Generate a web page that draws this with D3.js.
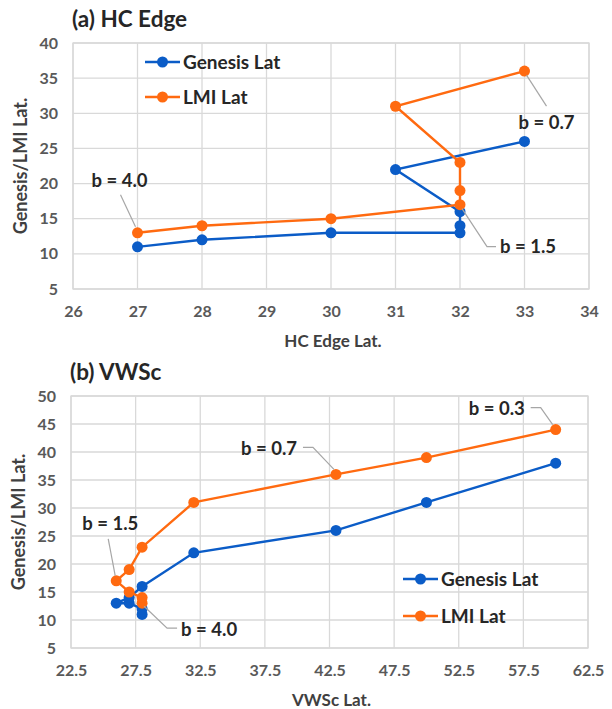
<!DOCTYPE html>
<html>
<head>
<meta charset="utf-8">
<script src="https://cdn.jsdelivr.net/npm/d3@7"></script>
<style>
  html, body { margin: 0; padding: 0; background: #fff; }
  svg text { font-family: "Lato", "Open Sans", sans-serif; }
</style>
</head>
<body>
<svg id="fig" width="612" height="709"></svg>
<script>
// (a) HC Edge latitude vs genesis / LMI latitude
const hcGenesisX = [27, 28, 30, 32, 32, 32, 31, 33];
const hcGenesisY = [11, 12, 13, 13, 14, 16, 22, 26];
const hcLmiX     = [27, 28, 30, 32, 32, 32, 31, 33];
const hcLmiY     = [13, 14, 15, 17, 19, 23, 31, 36];
const hcXTicks   = [26, 27, 28, 29, 30, 31, 32, 33, 34];
const hcYTicks   = [5, 10, 15, 20, 25, 30, 35, 40];

// (b) VWSc latitude vs genesis / LMI latitude
const vwsGenesisX = [28, 28, 27, 26, 27, 28, 32, 43, 50, 60];
const vwsGenesisY = [11, 12, 13, 13, 14, 16, 22, 26, 31, 38];
const vwsLmiX     = [28, 28, 27, 26, 27, 28, 32, 43, 50, 60];
const vwsLmiY     = [13, 14, 15, 17, 19, 23, 31, 36, 39, 44];
const vwsXTicks   = [22.5, 27.5, 32.5, 37.5, 42.5, 47.5, 52.5, 57.5, 62.5];
const vwsYTicks   = [5, 10, 15, 20, 25, 30, 35, 40, 45, 50];

// b-value callouts: label text and the LMI point each one refers to
const hcNotes  = [{ text: "b = 4.0", idx: 0 }, { text: "b = 1.5", idx: 3 }, { text: "b = 0.7", idx: 7 }];
const vwsNotes = [{ text: "b = 4.0", idx: 0 }, { text: "b = 1.5", idx: 3 }, { text: "b = 0.7", idx: 7 }, { text: "b = 0.3", idx: 9 }];

const BLUE = "#0b5cc7";
const ORANGE = "#ff6a10";
const svg = d3.select("#fig");

function drawPanel(p) {
  const g = svg.append("g");
  const x = d3.scaleLinear().domain(d3.extent(p.xTicks)).range([p.left, p.right]);
  const y = d3.scaleLinear().domain(d3.extent(p.yTicks)).range([p.bottom, p.top]);

  // gridlines
  g.append("g").selectAll("line").data(p.xTicks).join("line")
    .attr("x1", d => x(d)).attr("x2", d => x(d))
    .attr("y1", p.top).attr("y2", p.bottom)
    .attr("stroke", "#d9d9d9").attr("stroke-width", 1.3);
  g.append("g").selectAll("line").data(p.yTicks).join("line")
    .attr("x1", p.left).attr("x2", p.right)
    .attr("y1", d => y(d)).attr("y2", d => y(d))
    .attr("stroke", "#d9d9d9").attr("stroke-width", 1.3);

  // axes: tick labels only
  const xAxis = g.append("g").attr("transform", `translate(0,${p.bottom})`)
    .call(d3.axisBottom(x).tickValues(p.xTicks).tickSize(0).tickPadding(17)
      .tickFormat(d => String(d)));
  const yAxis = g.append("g").attr("transform", `translate(${p.left},0)`)
    .call(d3.axisLeft(y).tickValues(p.yTicks).tickSize(0).tickPadding(15));
  [xAxis, yAxis].forEach(a => {
    a.select(".domain").remove();
    a.selectAll("text").attr("font-size", 16).attr("font-weight", "bold")
      .attr("fill", "#595959").style("font-family", '"Lato", sans-serif');
  });

  // title
  g.append("text").attr("x", p.left - 1).attr("y", p.top - 16)
    .attr("font-size", 22.5).attr("font-weight", "bold").attr("fill", "#262626")
    .text(p.title);
  // axis titles
  g.append("text").attr("x", (p.left + p.right) / 2 + 2).attr("y", p.bottom + 58)
    .attr("text-anchor", "middle").attr("font-size", 17).attr("font-weight", "bold")
    .attr("fill", "#404040").text(p.xTitle);
  g.append("text")
    .attr("transform", `translate(${p.left - 46},${(p.top + p.bottom) / 2}) rotate(-90)`)
    .attr("text-anchor", "middle").attr("font-size", 18).attr("font-weight", "bold")
    .attr("fill", "#404040").text("Genesis/LMI Lat.");

  // series
  const line = d3.line().x(d => x(d[0])).y(d => y(d[1]));
  const series = [
    { pts: d3.zip(p.gx, p.gy), color: BLUE },
    { pts: d3.zip(p.lx, p.ly), color: ORANGE }
  ];
  series.forEach(s => {
    g.append("path").datum(s.pts).attr("d", line)
      .attr("fill", "none").attr("stroke", s.color).attr("stroke-width", 2.4);
  });
  series.forEach(s => {
    g.append("g").selectAll("circle").data(s.pts).join("circle")
      .attr("cx", d => x(d[0])).attr("cy", d => y(d[1])).attr("r", 5.5)
      .attr("fill", s.color);
  });

  // callouts
  p.notes.forEach((n, i) => {
    const pt = [x(p.lx[n.idx]), y(p.ly[n.idx])];
    const o = p.noteOffsets[i];
    const path = d3.path();
    path.moveTo(pt[0] + o.start[0], pt[1] + o.start[1]);
    o.bends.forEach(b => path.lineTo(pt[0] + b[0], pt[1] + b[1]));
    g.append("path").attr("d", path.toString()).attr("fill", "none")
      .attr("stroke", "#a6a6a6").attr("stroke-width", 1.2);
    g.append("text").attr("x", pt[0] + o.text[0]).attr("y", pt[1] + o.text[1])
      .attr("dy", "0.35em").attr("text-anchor", o.anchor || "start")
      .attr("font-size", 18.5).attr("font-weight", "bold").attr("fill", "#262626")
      .text(n.text);
  });

  // legend
  const leg = [{ name: "Genesis Lat", color: BLUE }, { name: "LMI Lat", color: ORANGE }];
  leg.forEach((l, i) => {
    const ly = p.legend[1] + i * p.legendGap;
    const lx = p.legend[0];
    g.append("line").attr("x1", lx).attr("x2", lx + 35).attr("y1", ly).attr("y2", ly)
      .attr("stroke", l.color).attr("stroke-width", 2.4);
    g.append("circle").attr("cx", lx + 17.5).attr("cy", ly).attr("r", 5.5).attr("fill", l.color);
    g.append("text").attr("x", lx + 38).attr("y", ly).attr("dy", "0.35em")
      .attr("font-size", 19).attr("font-weight", "bold").attr("fill", "#262626").text(l.name);
  });

  // plot frame
  g.append("rect").attr("x", p.left).attr("y", p.top)
    .attr("width", p.right - p.left).attr("height", p.bottom - p.top)
    .attr("fill", "none").attr("stroke", "#d9d9d9").attr("stroke-width", 1.3);
}

drawPanel({
  title: "(a) HC Edge", xTitle: "HC Edge Lat.",
  left: 73, right: 589, top: 43, bottom: 289,
  xTicks: hcXTicks, yTicks: hcYTicks,
  gx: hcGenesisX, gy: hcGenesisY, lx: hcLmiX, ly: hcLmiY,
  notes: hcNotes,
  noteOffsets: [
    { start: [-2, -6], bends: [[-17, -38]], text: [-46, -52] },
    { start: [2, 4], bends: [[27, 42], [36, 42]], text: [40, 42] },
    { start: [2, 4], bends: [[22, 35]], text: [-6, 51] }
  ],
  legend: [145, 62], legendGap: 35
});

drawPanel({
  title: "(b) VWSc", xTitle: "VWSc Lat.",
  left: 71, right: 588, top: 396, bottom: 648,
  xTicks: vwsXTicks, yTicks: vwsYTicks,
  gx: vwsGenesisX, gy: vwsGenesisY, lx: vwsLmiX, ly: vwsLmiY,
  notes: vwsNotes,
  noteOffsets: [
    { start: [2, 3], bends: [[25, 25], [35, 25]], text: [39, 26] },
    { start: [-1, -5], bends: [[-8, -42]], text: [-34, -57] },
    { start: [-2, -5], bends: [[-23, -27], [-33, -27]], text: [-95, -26] },
    { start: [-3, -5], bends: [[-15, -22], [-25, -22]], text: [-87, -21] }
  ],
  legend: [403, 579], legendGap: 37
});
</script>
</body>
</html>
